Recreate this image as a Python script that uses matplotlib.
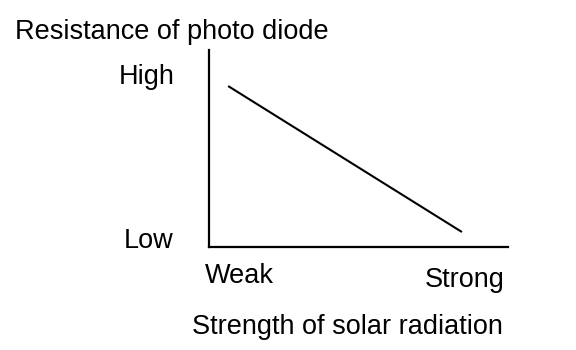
import matplotlib
matplotlib.use("Agg")
import matplotlib.pyplot as plt

plt.rcParams["font.family"] = ["Liberation Sans", "DejaVu Sans"]

# data (schematic, axes run 0..1)
strength = [0.064, 0.846]
resistance = [0.817, 0.076]

y_labels = ["Low", "High"]
x_labels = ["Weak", "Strong"]
y_title = "Resistance of photo diode"
x_title = "Strength of solar radiation"

W, H = 576, 350
fig = plt.figure(figsize=(W / 100, H / 100), dpi=100)
fig.patch.set_facecolor("white")


def px(x, y):
    return x / W, 1 - y / H


ax = fig.add_axes([209 / W, (H - 247) / H, (508 - 209) / W, (247 - 50) / H])
ax.plot(strength, resistance, color="black", lw=1.5, solid_capstyle="butt")
ax.set_xlim(0, 1)
ax.set_ylim(0, 1)
for s in ("top", "right"):
    ax.spines[s].set_visible(False)
for s in ("left", "bottom"):
    ax.spines[s].set_linewidth(1.6)
ax.set_xticks([])
ax.set_yticks([])

fs = 19.5
fig.text(*px(15, 39), y_title, fontsize=fs, ha="left", va="baseline")
fig.text(*px(175, 84), y_labels[1], fontsize=fs, ha="right", va="baseline")
fig.text(*px(174, 248), y_labels[0], fontsize=fs, ha="right", va="baseline")
fig.text(*px(205, 283), x_labels[0], fontsize=fs, ha="left", va="baseline")
fig.text(*px(505, 287), x_labels[1], fontsize=fs, ha="right", va="baseline")
fig.text(*px(192, 334), x_title, fontsize=fs, ha="left", va="baseline")

fig.savefig("out.png", dpi=100)
